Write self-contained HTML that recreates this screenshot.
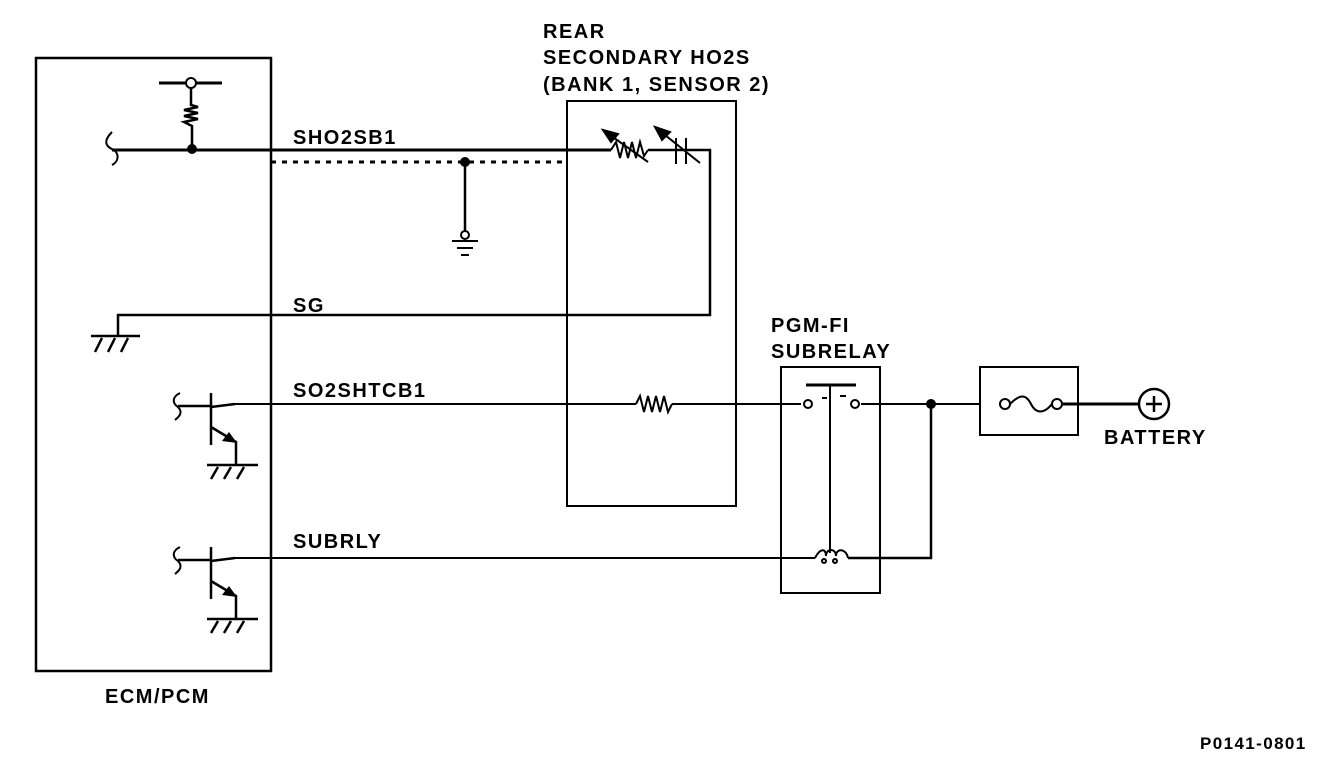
<!DOCTYPE html>
<html><head><meta charset="utf-8"><style>
body{margin:0;background:#fff}
svg{display:block}
text{font-family:"Liberation Sans",Arial,sans-serif;font-weight:bold;font-size:20px;letter-spacing:1.5px;fill:#000}
</style></head><body>
<svg width="1328" height="762" viewBox="0 0 1328 762" xmlns="http://www.w3.org/2000/svg">
<g fill="none" stroke="#000" stroke-width="2">
<rect x="36" y="58" width="235" height="613" stroke-width="2.5"/>
<rect x="567" y="101" width="169" height="405"/>
<rect x="781" y="367" width="99" height="226"/>
<rect x="980" y="367" width="98" height="68"/>
<path d="M112 150 H611" stroke-width="3"/>
<path d="M648 150 H710 V315 H118 V336" stroke-width="2.5"/>
<path d="M112 132 C104 140,104 146,114 150 C120 155,118 162,112 165"/>
<path d="M159 83 H222" stroke-width="3"/>
<circle cx="191" cy="83" r="5" fill="#fff"/>
<path d="M191 88 V105 L198 107 L184 110 L198 113 L184 116 L198 119 L184 122 L192 126 V150" stroke-width="2.5"/>
<circle cx="192" cy="149" r="5" fill="#000" stroke="none"/>
<path d="M271 162 H567" stroke-width="3" stroke-dasharray="5,6"/>
<circle cx="465" cy="162" r="5" fill="#000" stroke="none"/>
<path d="M465 162 V231" stroke-width="2.5"/>
<circle cx="465" cy="235" r="4" fill="#fff"/>
<path d="M452 241 H478 M457 248 H473 M461 255 H469" stroke-width="2"/>
<path d="M611 150 L616 142 L620 158 L624 142 L628 158 L632 142 L636 158 L640 142 L644 156 L648 150" stroke-width="2"/>
<path d="M603 130 L648 162" stroke-width="2"/>
<path d="M603 130 L618 134 L611 142 Z" fill="#000"/>
<path d="M676 138 V164 M686 138 V164" stroke-width="2"/>
<path d="M655 127 L700 163" stroke-width="2"/>
<path d="M655 127 L670 132 L662 140 Z" fill="#000"/>
<path d="M91 336 H140 M102 338 L95 352 M115 338 L108 352 M128 338 L121 352" stroke-width="2.5"/>
<path d="M235 404 H636 M672 404 H801 M861 404 H980" stroke-width="2"/>
<path d="M1063 404 H1139" stroke-width="3"/>
<path d="M636 404 L640 396 L644 412 L648 396 L652 412 L656 396 L660 412 L664 396 L668 412 L672 404" stroke-width="2"/>
<circle cx="808" cy="404" r="4" fill="#fff"/>
<circle cx="855" cy="404" r="4" fill="#fff"/>
<path d="M806 385 H856" stroke-width="3"/>
<path d="M830 385 V553"/>
<path d="M822 398 H827 M840 396 H846"/>
<circle cx="931" cy="404" r="5" fill="#000" stroke="none"/>
<path d="M931 404 V558 H848" stroke-width="2.5"/>
<path d="M815 558 C820 548,826 548,826 556 C826 548,836 548,836 556 C836 548,846 548,848 558"/>
<circle cx="824" cy="561" r="2"/><circle cx="835" cy="561" r="2"/>
<path d="M815 558 H235"/>
<circle cx="1005" cy="404" r="5" fill="#fff"/>
<circle cx="1057" cy="404" r="5" fill="#fff"/>
<path d="M1010 404 C1020 394,1026 394,1031 404 C1036 414,1044 414,1052 404"/>
<circle cx="1154" cy="404" r="15" fill="#fff" stroke-width="2.5"/>
<path d="M1146 404 H1162 M1154 396 V412" stroke-width="2.5"/>
</g>
<g fill="none" stroke="#000" stroke-width="2.5" id="t1">
<path d="M180 393 C172 397,172 403,178 407 C183 412,180 416,175 420" stroke-width="2"/>
<path d="M178 406 H211 M211 393 V445 M211 407 L235 404"/>
<path d="M211 427 L236 442 V465"/>
<path d="M237 443 L222 441 L229 432 Z" fill="#000" stroke="none"/>
<path d="M207 465 H258 M218 467 L211 479 M231 467 L224 479 M244 467 L237 479"/>
</g>
<use href="#t1" transform="translate(0,154)"/>
<text x="293" y="144">SHO2SB1</text>
<text x="293" y="312">SG</text>
<text x="293" y="397">SO2SHTCB1</text>
<text x="293" y="548">SUBRLY</text>
<text x="543" y="38">REAR</text>
<text x="543" y="64">SECONDARY HO2S</text>
<text x="543" y="91">(BANK 1, SENSOR 2)</text>
<text x="771" y="332">PGM-FI</text>
<text x="771" y="358">SUBRELAY</text>
<text x="1104" y="444">BATTERY</text>
<text x="105" y="703">ECM/PCM</text>
<text x="1200" y="749" style="font-size:17px;letter-spacing:1.4px">P0141-0801</text>
</svg>
</body></html>
